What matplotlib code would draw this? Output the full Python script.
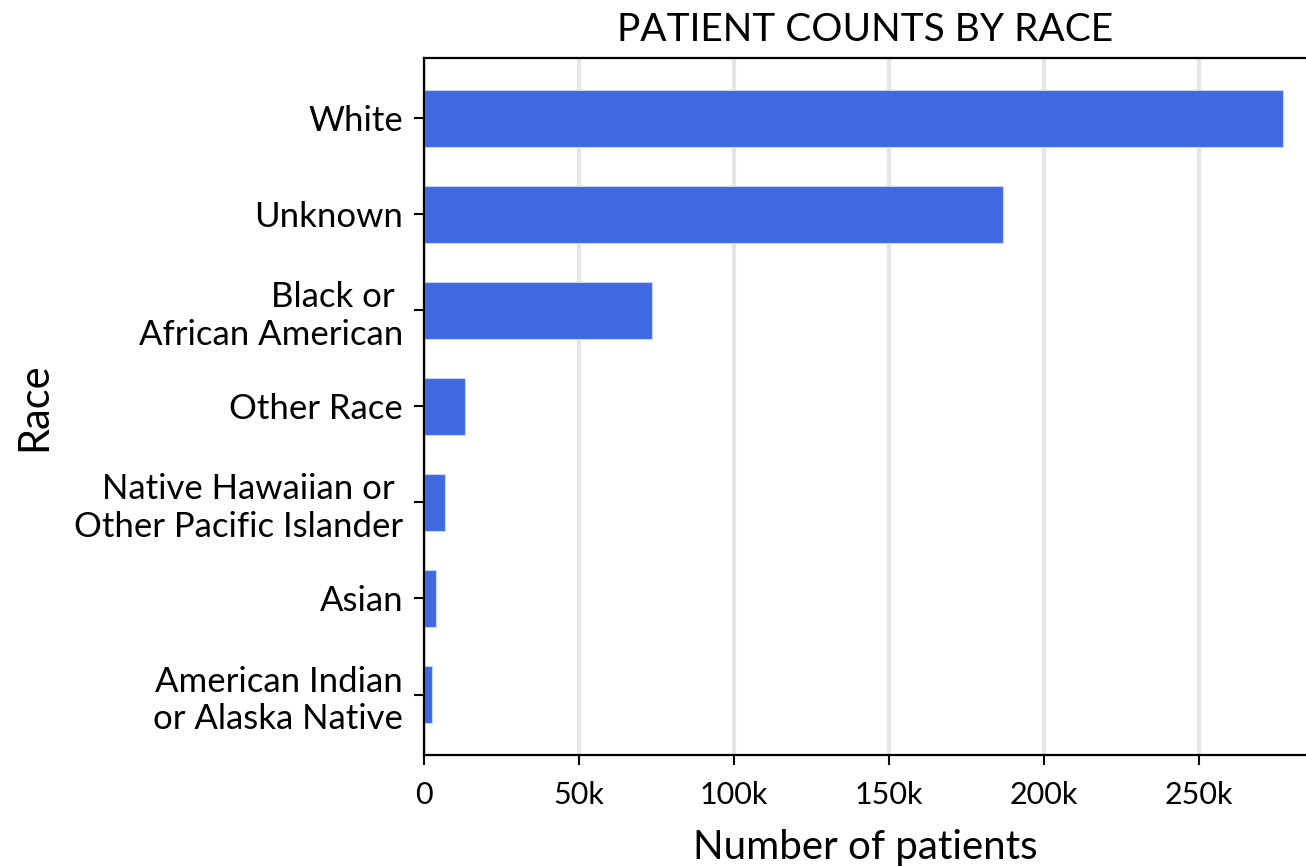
import matplotlib
matplotlib.use("Agg")
import matplotlib.pyplot as plt

# data
races = ["American Indian\nor Alaska Native", "Asian",
         "Native Hawaiian or \nOther Pacific Islander", "Other Race",
         "Black or \nAfrican American", "Unknown", "White"]
counts = [2500, 3900, 6800, 13200, 73500, 186800, 277100]
xticks = [0, 50000, 100000, 150000, 200000, 250000]
xtick_labels = ["0", "50k", "100k", "150k", "200k", "250k"]

plt.rcParams['font.family'] = ['Lato', 'DejaVu Sans']

fig = plt.figure(figsize=(13.06, 8.67), dpi=100)
ax = fig.add_axes([0.3247, 0.1292, 0.6753, 0.8039])

ax.barh(races, counts, height=0.6, color="#4169E1",
        edgecolor="#c9d5f7", linewidth=0.8, zorder=2)

ax.set_xlim(0, 284500)
ax.set_xticks(xticks)
ax.set_xticklabels(xtick_labels)
ax.grid(axis="x", color="#d6d6d6", linewidth=3, alpha=0.6, zorder=3)
ax.grid(axis="y", visible=False)

ax.spines["right"].set_visible(False)
for s in ["left", "bottom", "top"]:
    ax.spines[s].set_linewidth(1.6)
    ax.spines[s].set_color("black")

ax.tick_params(axis="both", length=7, width=1.5, pad=8)
ax.tick_params(axis="x", labelsize=22, pad=12)
ax.tick_params(axis="y", labelsize=25)
for lbl in ax.get_yticklabels():
    lbl.set_linespacing(1.2)

ax.set_title("PATIENT COUNTS BY RACE", fontsize=28, pad=12)
ax.set_xlabel("Number of patients", fontsize=29, labelpad=14)
ax.set_ylabel("Race", fontsize=30)
ax.yaxis.set_label_coords(-0.42, 0.5)

fig.savefig("out.png", dpi=100)
